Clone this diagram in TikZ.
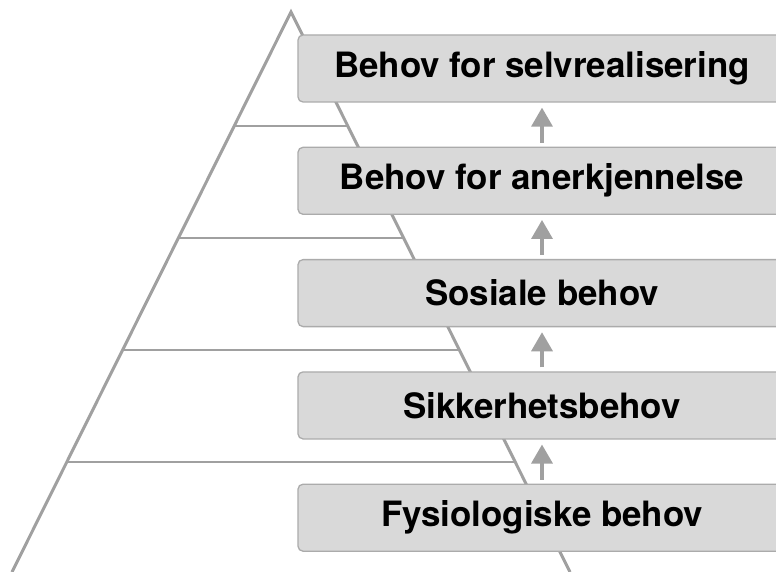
\documentclass[tikz,border=0pt]{standalone}
\usepackage{fontspec}
\setmainfont{TeX Gyre Heros}
\usetikzlibrary{positioning,calc,arrows.meta}

\definecolor{linegray}{HTML}{A0A0A0}
\definecolor{boxfill}{HTML}{D9D9D9}
\definecolor{boxline}{HTML}{ABABAB}

\tikzset{
  level/.style={draw=boxline, line width=1.3pt, fill=boxfill, rounded corners=5pt,
    minimum width=488pt, minimum height=67pt, inner sep=0pt,
    font=\fontsize{34.9}{40}\selectfont\bfseries},
  uparrow/.style={draw=linegray, line width=3.4pt, -{Triangle[width=21pt,length=19pt]},
    shorten <=4pt, shorten >=5pt},
}

\begin{document}
\begin{tikzpicture}[x=1pt,y=-1pt]
\useasboundingbox (0,0) rectangle (776,572);
\coordinate (top) at (291,12);
\coordinate (bl) at (12,572);
\coordinate (br) at (570,572);

%pyramiden
\draw[linegray, line width=3pt] (bl) -- (top) -- (br);
\foreach \f in {0.2036,0.4036,0.6036,0.8036}
  \draw[linegray, line width=2.5pt] ($(top)!\f!(bl)$) -- ($(top)!\f!(br)$);

%trinnene
\node[level] (selv) at (542,68.5) {Behov for selvrealisering};
\node[level, below=44pt of selv] (anerk) {Behov for anerkjennelse};
\node[level, below=44pt of anerk] (sosial) {Sosiale behov};
\node[level, below=44pt of sosial] (sikker) {Sikkerhetsbehov};
\node[level, below=44pt of sikker] (fysio) {Fysiologiske behov};

%piler
\draw[uparrow] (anerk) -- (selv);
\draw[uparrow] (sosial) -- (anerk);
\draw[uparrow] (sikker) -- (sosial);
\draw[uparrow] (fysio) -- (sikker);
\end{tikzpicture}
\end{document}
